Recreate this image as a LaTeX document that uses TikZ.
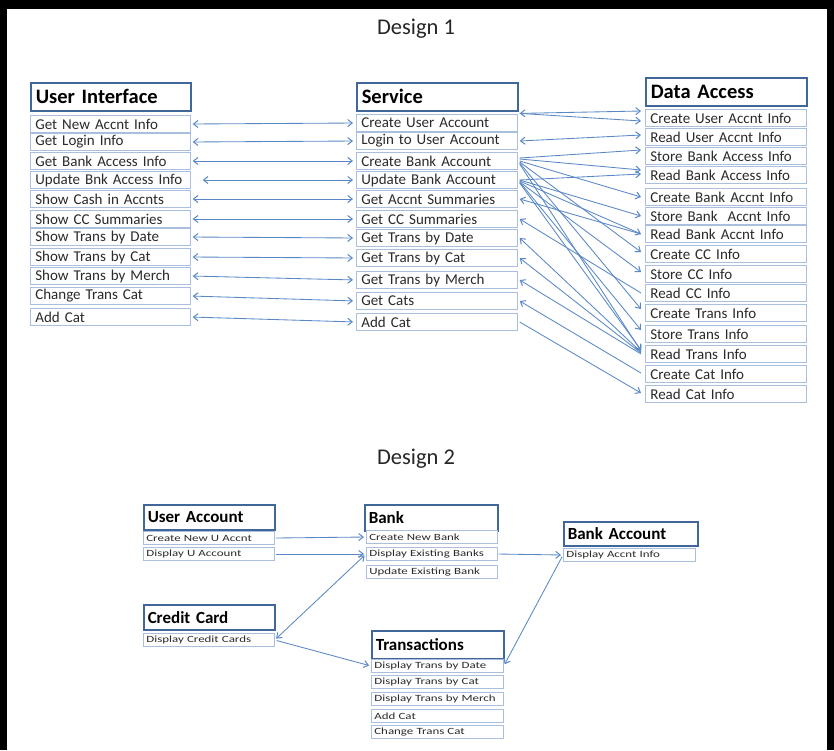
\documentclass[tikz,border=0pt]{standalone}
\usepackage{fontspec}
\setmainfont{Carlito}
\newfontfamily\widefont{Carlito}[FakeStretch=1.36]
\usetikzlibrary{arrows.meta,calc}
\definecolor{hdrblue}{HTML}{41669A}
\definecolor{rowblue}{HTML}{A9BFDD}
\definecolor{arrblue}{HTML}{5A88C6}
\definecolor{txtgray}{HTML}{2A2A2A}
\newcommand\sdlink[5]{\draw[conn,#1] ($(#2.east)+(2,#3)$) -- ($(#4.west)+(-4,#5)$);}
\begin{document}
\begin{tikzpicture}[x=1pt,y=-1pt,
  >={Straight Barb[length=4.5pt,width=7pt,line width=1pt]},
  conn/.style={draw=arrblue,line width=0.85pt},
  hdr/.style={draw=hdrblue,line width=1.5pt,fill=white,anchor=north west,inner xsep=5pt,inner ysep=0pt,
    align=left,text width=#1,font=\bfseries\fontsize{20.5}{22}\selectfont},
  row/.style={draw=rowblue,line width=0.7pt,fill=white,anchor=west,inner xsep=5pt,inner ysep=0pt,
    minimum height=16.5pt,align=left,text width=#1,text=txtgray,font=\fontsize{15}{15}\selectfont},
  hdrb/.style={draw=hdrblue,line width=1.5pt,fill=white,anchor=north west,inner xsep=4pt,inner ysep=0pt,
    align=left,text width=#1,font=\bfseries\fontsize{17}{18}\selectfont},
  rowb/.style={draw=rowblue,line width=0.7pt,fill=white,anchor=west,inner xsep=3pt,inner ysep=0pt,
    minimum height=13pt,align=left,text width=#1,text=txtgray,font=\widefont\fontsize{9.5}{10}\selectfont},
  title/.style={font=\fontsize{22.5}{24}\selectfont,text=black!85}
]
\useasboundingbox (0,0) rectangle (834,750);
\fill[black] (0,0) rectangle (834,750);
\fill[white] (7,9) rectangle (827,750);

\node[title] (t1) at (416,29) {Design 1};
\node[title] (t2) at (416,459) {Design 2};

% ---------- Design 1 ----------
\node[hdr=150pt,minimum height=28pt] (ui) at (30,82) {User Interface};
\foreach \t/\y [count=\i] in {Get New Accnt Info/124,Get Login Info/142,Get Bank Access Info/161,
  Update Bnk Access Info/180,Show Cash in Accnts/199,Show CC Summaries/219,Show Trans by Date/237,
  Show Trans by Cat/257,Show Trans by Merch/276,Change Trans Cat/296,Add Cat/317}
  \node[row=150pt] (u\i) at (30,\y) {\t};

\node[hdr=151pt,minimum height=28pt] (sv) at (356,82) {Service};
\foreach \t/\y [count=\i] in {Create User Account/123,Login to User Account/141,Create Bank Account/161,
  Update Bank Account/180,Get Accnt Summaries/199,Get CC Summaries/219,Get Trans by Date/238,
  Get Trans by Cat/258,Get Trans by Merch/280,Get Cats/301,Add Cat/322}
  \node[row=151pt] (s\i) at (356,\y) {\t};

\node[hdr=151pt,minimum height=28pt] (da) at (645,77) {Data Access};
\foreach \t/\y [count=\i] in {Create User Accnt Info/118,Read User Accnt Info/137,Store Bank Access Info/156,
  Read Bank Access Info/175,Create Bank Accnt Info/197,Store Bank\ \ Accnt Info/216,Read Bank Accnt Info/234,
  Create CC Info/254,Store CC Info/274,Read CC Info/293,Create Trans Info/313,Store Trans Info/334,
  Read Trans Info/354,Create Cat Info/374,Read Cat Info/394}
  \node[row=151pt] (d\i) at (645,\y) {\t};

% UI <-> Service
\foreach \i in {1,2,3,5,6,7,8,9,10,11}
  \draw[conn,<->,shorten <=2pt,shorten >=3pt] (u\i.east) -- (s\i.west);
\draw[conn,<->,shorten <=12pt,shorten >=3pt] (u4.east) -- (s4.west);

% Service <-> Data Access
\draw[conn,<->] ($(s1.north east)+(2,-1)$) -- ($(d1.west)+(-4,-7)$);
\draw[conn,->] ($(s1.north east)+(2,-1)$) -- ($(d1.west)+(-4,3)$);
\sdlink{<->}{s2}{0}{d2}{-2}
\sdlink{->}{s3}{-3}{d3}{-6}
\sdlink{->}{s3}{-2}{d4}{-5}
\sdlink{->}{s4}{0}{d4}{-1}
\sdlink{->}{s3}{0}{d5}{0}
\sdlink{->}{s4}{0}{d6}{0}
\sdlink{->}{s4}{1}{d7}{0}
\sdlink{->}{s3}{1}{d8}{-2}
\sdlink{->}{s4}{2}{d9}{-2}
\sdlink{->}{s3}{2}{d11}{-4}
\sdlink{->}{s4}{2}{d12}{-4}
\sdlink{->}{s4}{3}{d13}{-4}
\sdlink{->}{s3}{3}{d13}{-3}
\sdlink{<-}{s5}{0}{d7}{0}
\sdlink{<-}{s6}{0}{d10}{0}
\sdlink{<-}{s7}{0}{d13}{-2}
\sdlink{<-}{s8}{0}{d13}{-1}
\sdlink{<-}{s9}{0}{d13}{0}
\sdlink{<-}{s10}{0}{d14}{-1}
\sdlink{->}{s11}{0}{d15}{-1}

% ---------- Design 2 ----------
\node[hdrb=123pt,minimum height=25pt] (ua) at (143,504) {User Account};
\node[rowb=125pt] (ua1) at (143,538) {Create New U Accnt};
\node[rowb=125pt] (ua2) at (143,554) {Display U Account};

\node[hdrb=123pt,minimum height=25pt] (cc) at (143,604) {Credit Card};
\node[rowb=125pt] (cc1) at (143,640) {Display Credit Cards};

\node[hdrb=125pt,minimum height=26pt] (bk) at (364,504) {Bank};
\node[rowb=125pt] (b1) at (366,537) {Create New Bank};
\node[rowb=125pt] (b2) at (366,554) {Display Existing Banks};
\node[rowb=125pt] (b3) at (366,572) {Update Existing Bank};

\node[hdrb=126pt,minimum height=24pt] (ba) at (563,521) {Bank Account};
\node[rowb=126pt] (ba1) at (563,555) {Display Accnt Info};

\node[hdrb=124pt,minimum height=28pt] (tr) at (371,630) {Transactions};
\node[rowb=126pt] (t1r) at (371,666) {Display Trans by Date};
\node[rowb=126pt] (t2r) at (371,682) {Display Trans by Cat};
\node[rowb=126pt] (t3r) at (371,699) {Display Trans by Merch};
\node[rowb=126pt] (t4r) at (371,716) {Add Cat};
\node[rowb=126pt] (t5r) at (371,732) {Change Trans Cat};

\draw[conn,->,shorten <=1pt,shorten >=2pt] (ua1.east) -- (b1.west);
\draw[conn,->,shorten <=1pt,shorten >=2pt] (ua2.east) -- (b2.west);
\draw[conn,<->,shorten <=2pt,shorten >=2pt] (cc1.east) -- (b2.west);
\draw[conn,->,shorten <=2pt,shorten >=2pt] (cc1.east) -- (t1r.west);
\draw[conn,->,shorten <=1pt,shorten >=2pt] (b2.east) -- (ba1.west);
\draw[conn,->,shorten <=2pt,shorten >=2pt] (ba1.west) -- (t1r.east);
\end{tikzpicture}
\end{document}
